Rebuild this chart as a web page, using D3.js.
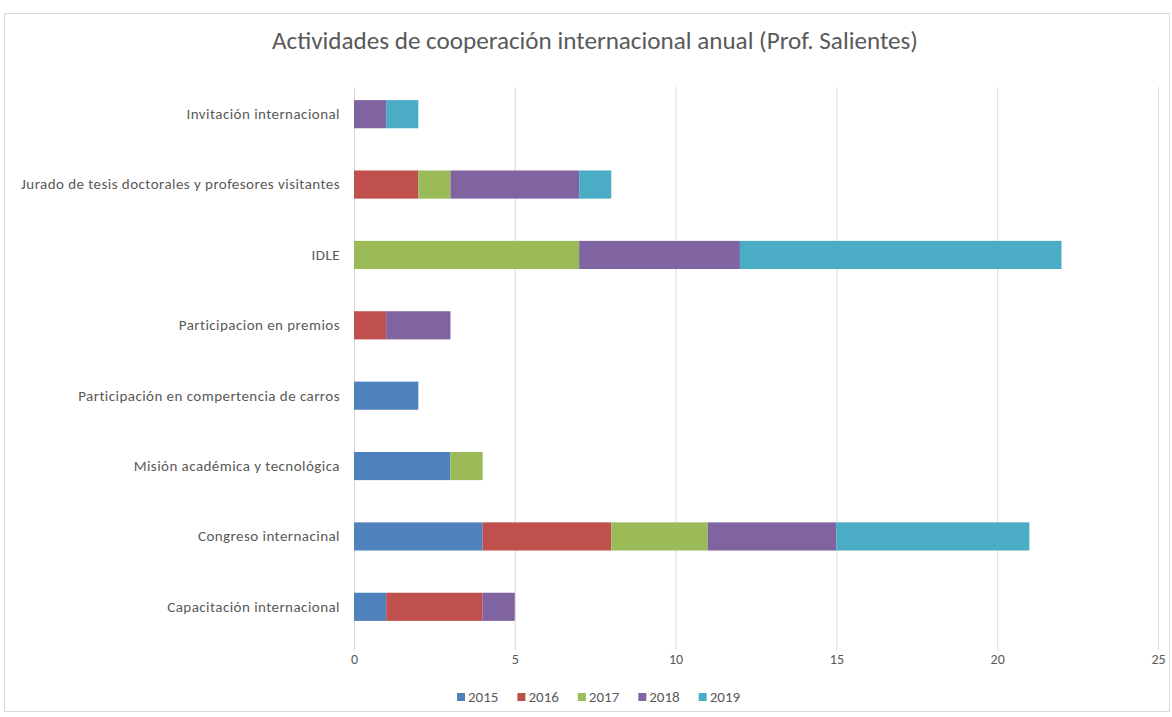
<!DOCTYPE html>
<html>
<head>
<meta charset="utf-8">
<script src="https://cdn.jsdelivr.net/npm/d3@7"></script>
<style>
  html, body { margin: 0; padding: 0; background: #ffffff; }
  svg { display: block; }
</style>
</head>
<body>
<svg id="chart" width="1172" height="717"></svg>
<script>
// Activity categories, listed bottom to top as they appear on the axis
const categories = [
  "Capacitación internacional",
  "Congreso internacinal",
  "Misión académica y tecnológica",
  "Participación en compertencia de carros",
  "Participacion en premios",
  "IDLE",
  "Jurado de tesis doctorales y profesores visitantes",
  "Invitación internacional"
];

const years = ["2015", "2016", "2017", "2018", "2019"];

// Activities per year, one value per category (same order as categories)
const values2015 = [1, 4, 3, 2, 0, 0, 0, 0];
const values2016 = [3, 4, 0, 0, 1, 0, 2, 0];
const values2017 = [0, 3, 1, 0, 0, 7, 1, 0];
const values2018 = [1, 4, 0, 0, 2, 5, 4, 1];
const values2019 = [0, 6, 0, 0, 0, 10, 1, 1];

const xTicks = [0, 5, 10, 15, 20, 25];
const colors = ["#4F81BD", "#C0504D", "#9BBB59", "#8064A2", "#4BACC6"];

const seriesValues = [values2015, values2016, values2017, values2018, values2019];
const rows = categories.map((c, i) => {
  const r = { category: c };
  years.forEach((y, k) => { r[y] = seriesValues[k][i]; });
  return r;
});

const svg = d3.select("#chart");
const W = 1172, H = 717;
const font = "Calibri, Carlito, 'Open Sans', 'Liberation Sans', sans-serif";
const textColor = "#595959";

// Chart frame
svg.append("rect")
  .attr("x", 4.5).attr("y", 13.5)
  .attr("width", W - 7).attr("height", H - 19)
  .attr("fill", "#ffffff")
  .attr("stroke", "#d9d9d9").attr("stroke-width", 1);

const plot = { left: 354, right: 1158, top: 79, bottom: 642 };

const x = d3.scaleLinear().domain([0, 25]).range([plot.left, plot.right]);
const y = d3.scaleBand()
  .domain(categories.slice().reverse())
  .range([plot.top, plot.bottom])
  .paddingInner(0.6).paddingOuter(0.3);

// Vertical gridlines
svg.append("g")
  .selectAll("line")
  .data(xTicks)
  .join("line")
  .attr("x1", d => x(d) + 0.5).attr("x2", d => x(d) + 0.5)
  .attr("y1", plot.top + 8).attr("y2", plot.bottom + 8)
  .attr("stroke", "#d9d9d9").attr("stroke-width", 1);

// Stacked bars
const stack = d3.stack().keys(years);
const layers = stack(rows);

svg.append("g")
  .selectAll("g")
  .data(layers)
  .join("g")
  .attr("fill", (d, i) => colors[i])
  .selectAll("rect")
  .data(d => d.filter(s => s[1] - s[0] > 0))
  .join("rect")
  .attr("x", d => x(d[0]))
  .attr("width", d => x(d[1]) - x(d[0]))
  .attr("y", d => y(d.data.category))
  .attr("height", y.bandwidth());

// Bottom axis tick labels
const xAxis = d3.axisBottom(x).tickValues(xTicks).tickSize(0).tickPadding(0);
const gx = svg.append("g")
  .attr("transform", `translate(0, ${plot.bottom + 12})`)
  .call(xAxis);
gx.select(".domain").remove();
gx.selectAll("text")
  .attr("fill", textColor)
  .attr("font-family", font)
  .attr("font-size", 14)
  .attr("dy", "0.71em");

// Category labels
const yAxis = d3.axisLeft(y).tickSize(0).tickPadding(14);
const gy = svg.append("g")
  .attr("transform", `translate(${plot.left}, 0)`)
  .call(yAxis);
gy.select(".domain").remove();
gy.selectAll("text")
  .attr("fill", textColor)
  .attr("font-family", font)
  .attr("font-size", 15)
  .attr("letter-spacing", 0.45);

// Title
svg.append("text")
  .attr("x", 595).attr("y", 49)
  .attr("text-anchor", "middle")
  .attr("fill", textColor)
  .attr("font-family", font)
  .attr("font-size", 24)
  .attr("textLength", 646)
  .attr("lengthAdjust", "spacingAndGlyphs")
  .text("Actividades de cooperación internacional anual (Prof. Salientes)");

// Legend
const legend = svg.append("g").attr("transform", "translate(457, 697)");
let lx = 0;
years.forEach((yr, i) => {
  const item = legend.append("g").attr("transform", `translate(${lx}, 0)`);
  item.append("rect")
    .attr("x", 0).attr("y", -4)
    .attr("width", 8).attr("height", 8)
    .attr("fill", colors[i]);
  const t = item.append("text")
    .attr("x", 11).attr("y", 0)
    .attr("dy", "0.35em")
    .attr("fill", textColor)
    .attr("font-family", font)
    .attr("font-size", 15)
    .text(yr);
  lx += 11 + t.node().getComputedTextLength() + 19;
});
</script>
</body>
</html>
